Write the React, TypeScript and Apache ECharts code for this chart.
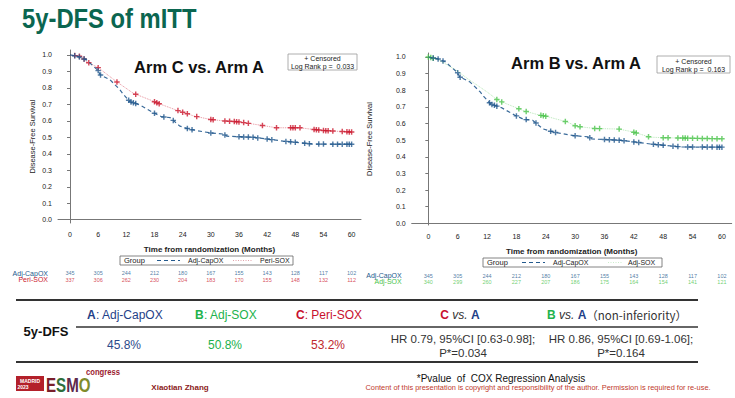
import React, { useEffect, useRef } from "react";
import * as echarts from "echarts";

// ---------- data ----------
const months = [0, 6, 12, 18, 24, 30, 36, 42, 48, 54, 60];
const yTicks = [0, 0.1, 0.2, 0.3, 0.4, 0.5, 0.6, 0.7, 0.8, 0.9, 1.0];

const riskCapOX = [345, 305, 244, 212, 180, 167, 155, 143, 128, 117, 102];
const riskPeriSOX = [337, 306, 262, 230, 204, 183, 170, 155, 148, 132, 112];
const riskAdjSOX = [340, 299, 260, 227, 207, 186, 175, 164, 154, 141, 121];

// Kaplan-Meier estimates (months, survival)
const capoxT = [0, 1.8, 3.5, 6, 6.4, 8.5, 10.6, 11.4, 12.8, 14.9, 17.7, 19.5, 21.3, 23.4, 25.6, 29.8, 32.7, 33.4, 39, 41.9, 45.4, 48.3, 51.8, 60];
const capoxS = [1, 0.99, 0.97, 0.905, 0.88, 0.85, 0.79, 0.76, 0.716, 0.696, 0.65, 0.625, 0.62, 0.568, 0.548, 0.527, 0.52, 0.507, 0.5, 0.49, 0.477, 0.469, 0.459, 0.458];

const periT = [0, 2.5, 3.5, 6, 9.9, 13.5, 17.7, 18.8, 22.7, 24.8, 26.3, 29.8, 32.7, 35.9, 40.5, 44, 49, 51.8, 54.7, 60];
const periS = [1, 0.99, 0.96, 0.923, 0.838, 0.767, 0.72, 0.706, 0.665, 0.645, 0.63, 0.609, 0.6, 0.594, 0.574, 0.558, 0.558, 0.548, 0.54, 0.532];

const soxT = [0, 2, 4, 6, 8, 10, 12, 14, 15, 18.4, 19.4, 22.8, 23.9, 28.3, 30.3, 34.1, 38.9, 41.9, 45.3, 48, 60];
const soxS = [1, 0.985, 0.95, 0.915, 0.87, 0.83, 0.79, 0.745, 0.73, 0.69, 0.677, 0.65, 0.645, 0.61, 0.583, 0.57, 0.567, 0.549, 0.518, 0.515, 0.508];

// censoring times (months)
const capoxCens = [1, 2, 3, 6, 6.5, 12.5, 13, 13.5, 14, 18, 20, 22, 25, 26, 30, 33, 36, 37, 38, 39, 40, 42, 43, 46, 47, 48, 50, 51, 53, 54, 56, 57, 58, 59, 59.5, 60];
const periCens = [1, 2, 3, 4, 6, 10, 14, 18, 18.5, 19, 23, 24, 25, 27, 30, 30.5, 33, 34, 35, 35.5, 36, 37, 38, 41, 44, 47, 47.5, 48, 49, 52, 52.5, 53, 54, 54.5, 55, 56, 58, 59, 59.5, 60];
const soxCens = [0, 0.5, 1, 14, 15, 18.5, 20, 23, 23.5, 24, 28, 30, 31, 34, 35, 39, 42, 42.5, 45, 48, 49, 51, 52, 52.5, 53, 54, 55, 56, 57, 58, 59, 60];

// ---------- styles ----------
const BLUE = "#245a8e";
const RED = "#cc1a30";
const GREEN = "#4cc44c";
const FONT = "'Liberation Sans', Arial, sans-serif";
const PLUS =
  "path://M-1,-0.26 L-0.26,-0.26 L-0.26,-1 L0.26,-1 L0.26,-0.26 L1,-0.26 L1,0.26 L0.26,0.26 L0.26,1 L-0.26,1 L-0.26,0.26 L-1,0.26 Z";

function interp(ts: number[], ss: number[], t: number) {
  for (let i = 1; i < ts.length; i++) {
    if (t <= ts[i]) {
      const f = (t - ts[i - 1]) / (ts[i] - ts[i - 1]);
      return ss[i - 1] + f * (ss[i] - ss[i - 1]);
    }
  }
  return ss[ss.length - 1];
}
const zip = (ts: number[], ss: number[]) => ts.map((t, i) => [t, ss[i]]);
const cens = (c: number[], ts: number[], ss: number[]) => c.map((t) => [t, interp(ts, ss, t)]);

function mainAxes(idx: number, left: number, top: number, width: number, height: number, xmin: number, xmax: number, ymin: number, ymax: number, nameGap: number) {
  return {
    grid: { left, top, width, height },
    xAxis: {
      type: "value",
      gridIndex: idx,
      min: xmin,
      max: xmax,
      name: "Time from randomization (Months)",
      nameLocation: "middle",
      nameGap: 22,
      nameTextStyle: { fontSize: 8, fontWeight: "bold", color: "#222", fontFamily: FONT },
      axisLine: { lineStyle: { color: "#777", width: 1 } },
      axisTick: { show: false },
      splitLine: { show: false },
      axisLabel: { customValues: months, fontSize: 7, color: "#222", margin: 8, fontFamily: FONT },
    },
    yAxis: {
      type: "value",
      gridIndex: idx,
      min: ymin,
      max: ymax,
      name: "Disease-Free Survival",
      nameLocation: "middle",
      nameGap,
      nameTextStyle: { fontSize: 7.5, color: "#222", fontFamily: FONT },
      axisLine: { show: true, lineStyle: { color: "#777", width: 1 } },
      axisTick: { show: true, customValues: yTicks, length: 3, lineStyle: { color: "#777" } },
      splitLine: { show: false },
      axisLabel: {
        customValues: yTicks,
        fontSize: 7,
        color: "#222",
        margin: 6,
        fontFamily: FONT,
        formatter: (v: number) => v.toFixed(1),
      },
    },
  };
}

function riskAxes(idx: number, left: number, top: number, width: number, height: number, xmin: number, xmax: number, names: string[], colors: string[]) {
  return {
    grid: { left, top, width, height },
    xAxis: { type: "value", gridIndex: idx, min: xmin, max: xmax, show: false },
    yAxis: {
      type: "category",
      gridIndex: idx,
      inverse: true,
      data: names,
      axisLine: { show: false },
      axisTick: { show: false },
      axisLabel: {
        interval: 0,
        hideOverlap: false,
        margin: 10,
        fontFamily: FONT,
        formatter: (v: string) => (v === names[0] ? `{a|${v}}` : `{b|${v}}`),
        rich: {
          a: { fontSize: 7, color: colors[0], fontFamily: FONT },
          b: { fontSize: 7, color: colors[1], fontFamily: FONT },
        },
      },
    },
  };
}

function riskSeries(idx: number, name: string, counts: number[], color: string) {
  return {
    type: "scatter",
    xAxisIndex: idx,
    yAxisIndex: idx,
    symbolSize: 0,
    silent: true,
    data: months.map((m, i) => [m, name, counts[i]]),
    label: {
      show: true,
      position: "inside",
      fontSize: 5.5,
      color,
      fontFamily: FONT,
      formatter: (p: any) => String(p.data[2]),
    },
  };
}

function kmLine(idx: number, ts: number[], ss: number[], color: string, type: any, width: number, opacity: number) {
  return {
    type: "line",
    xAxisIndex: idx,
    yAxisIndex: idx,
    data: zip(ts, ss),
    showSymbol: false,
    symbol: "none",
    lineStyle: { color, type, width, opacity },
    silent: true,
  };
}
function censSeries(idx: number, c: number[], ts: number[], ss: number[], color: string) {
  return {
    type: "scatter",
    xAxisIndex: idx,
    yAxisIndex: idx,
    data: cens(c, ts, ss),
    symbol: PLUS,
    symbolSize: 5.5,
    itemStyle: { color },
    silent: true,
  };
}

const T = (text: string, x: number, y: number, fontSize: number, fill: string, extra: any = {}, el: any = {}) => ({
  type: "text",
  x,
  y,
  silent: true,
  ...el,
  style: {
    text,
    fontSize,
    fill,
    fontFamily: FONT,
    textAlign: "center",
    textVerticalAlign: "middle",
    ...extra,
  },
});
const L = (x1: number, y1: number, x2: number, y2: number, stroke: string, lineWidth: number, lineDash?: number[]) => ({
  type: "line",
  silent: true,
  shape: { x1, y1, x2, y2 },
  style: { stroke, lineWidth, lineDash },
});
const R = (x: number, y: number, width: number, height: number, fill: string, stroke?: string, lineWidth = 1) => ({
  type: "rect",
  silent: true,
  shape: { x, y, width, height },
  style: { fill, stroke, lineWidth },
});

export default function App() {
  const ref = useRef<HTMLDivElement>(null);
  useEffect(() => {
    document.body.style.margin = "0";
    const chart = echarts.init(ref.current!, undefined, { renderer: "svg" });

    const a0 = mainAxes(0, 58, 50, 303, 173, -2.56, 62, -0.02, 1.03, 22);
    const a1 = mainAxes(1, 411.7, 53, 320, 172, -3.4, 62, -0.01, 1.024, 38);
    const r0 = riskAxes(2, 58, 270, 303, 13, -2.56, 62, ["Adj-CapOX", "Peri-SOX"], [BLUE, RED]);
    const r1 = riskAxes(3, 411.7, 272.5, 320, 12, -3.4, 62, ["Adj-CapOX", "Adj-SOX"], [BLUE, GREEN]);

    const hdr = (letter: string, rest: string, color: string) => ({
      text: `{l|${letter}}{r|${rest}}`,
      rich: {
        l: { fontSize: 12, fontWeight: "bold", fill: color, color, fontFamily: FONT },
        r: { fontSize: 12, fill: color, color, fontFamily: FONT },
      },
    });

    const graphic: any[] = [
      // main title
      T("5y-DFS of mITT", 22, 18, 28, "#0b6650", { fontWeight: "bold", textAlign: "left" }, { scaleX: 0.85 }),
      // arm titles
      T("Arm C vs. Arm A", 199, 67, 16.5, "#111", { fontWeight: "bold" }),
      T("Arm B vs. Arm A", 576, 63, 16.5, "#111", { fontWeight: "bold" }),
      // censored boxes
      R(288, 54, 69, 16, "#fff", "#999", 0.8),
      T("+ Censored", 322.5, 58.5, 7, "#222"),
      T("Log Rank p =  0.033", 322.5, 66, 7, "#222"),
      R(657, 56, 73, 17, "#fff", "#999", 0.8),
      T("+ Censored", 693.5, 61, 7, "#222"),
      T("Log Rank p =  0.163", 693.5, 69, 7, "#222"),
      // legend boxes
      R(120, 256, 173, 9, "#fff", "#666", 0.8),
      T("Group", 124, 260.5, 7.5, "#222", { textAlign: "left" }),
      L(157, 260.5, 180, 260.5, BLUE, 1, [4, 3]),
      T("Adj-CapOX", 188, 260.5, 7, "#222", { textAlign: "left" }),
      L(233, 260.5, 253, 260.5, "#d98a96", 0.8, [1, 1.5]),
      T("Peri-SOX", 260, 260.5, 7, "#222", { textAlign: "left" }),
      R(483, 258, 179, 9, "#fff", "#666", 0.8),
      T("Group", 487, 262.5, 7.5, "#222", { textAlign: "left" }),
      L(522, 262.5, 545, 262.5, BLUE, 1, [4, 3]),
      T("Adj-CapOX", 553, 262.5, 7, "#222", { textAlign: "left" }),
      L(608, 262.5, 623, 262.5, "#bfe8bf", 0.8, [1, 1.5]),
      T("Adj-SOX", 628, 262.5, 7, "#222", { textAlign: "left" }),
      // table lines
      L(16, 300, 698, 300, "#333", 2),
      L(76, 327, 698, 327, "#333", 1.5),
      L(16, 362, 698, 362, "#333", 2),
      // table header
      { type: "text", x: 125, y: 315, silent: true, style: { ...hdr("A", ": Adj-CapOX", "#1f3f88"), textAlign: "center", textVerticalAlign: "middle" } },
      { type: "text", x: 226, y: 315, silent: true, style: { ...hdr("B", ": Adj-SOX", "#22b24c"), textAlign: "center", textVerticalAlign: "middle" } },
      { type: "text", x: 329, y: 315, silent: true, style: { ...hdr("C", ": Peri-SOX", "#c8102e"), textAlign: "center", textVerticalAlign: "middle" } },
      {
        type: "text",
        x: 460,
        y: 315,
        silent: true,
        style: {
          text: "{c|C}{v| vs. }{a|A}",
          textAlign: "center",
          textVerticalAlign: "middle",
          rich: {
            c: { fontSize: 12, fontWeight: "bold", fill: "#c8102e", color: "#c8102e", fontFamily: FONT },
            v: { fontSize: 12, fontStyle: "italic", fill: "#333", color: "#333", fontFamily: FONT },
            a: { fontSize: 12, fontWeight: "bold", fill: "#1f3f88", color: "#1f3f88", fontFamily: FONT },
          },
        },
      },
      {
        type: "text",
        x: 617,
        y: 315,
        silent: true,
        style: {
          text: "{b|B}{v| vs. }{a|A}{n|（non-inferiority）}",
          textAlign: "center",
          textVerticalAlign: "middle",
          rich: {
            b: { fontSize: 12, fontWeight: "bold", fill: "#22b24c", color: "#22b24c", fontFamily: FONT },
            v: { fontSize: 12, fontStyle: "italic", fill: "#333", color: "#333", fontFamily: FONT },
            a: { fontSize: 12, fontWeight: "bold", fill: "#1f3f88", color: "#1f3f88", fontFamily: FONT },
            n: { fontSize: 11.5, fill: "#333", color: "#333", fontFamily: "'Noto Sans CJK SC', " + FONT },
          },
        },
      },
      T("5y-DFS", 46, 331, 13, "#111", { fontWeight: "bold" }),
      T("45.8%", 124, 345, 12, "#2c4a8a"),
      T("50.8%", 225, 345, 12, "#22b24c"),
      T("53.2%", 328, 345, 12, "#c0282d"),
      T("HR 0.79, 95%CI [0.63-0.98];", 463, 339, 11.5, "#333"),
      T("P*=0.034", 463, 352.5, 11.5, "#333"),
      T("HR 0.86, 95%CI [0.69-1.06];", 621, 339, 11.5, "#333"),
      T("P*=0.164", 621, 352.5, 11.5, "#333"),
      // footer: ESMO logo
      R(16, 376, 28, 15, "#b3202a"),
      T("MADRID", 30, 380.5, 5, "#fff", { fontWeight: "bold" }),
      T("2023", 23, 387, 5, "#fff", { fontWeight: "bold" }),
      {
        type: "text",
        x: 46,
        y: 384.5,
        scaleX: 0.72,
        silent: true,
        style: {
          text: "{e|E}{s|S}{m|M}{o|O}",
          textAlign: "left",
          textVerticalAlign: "middle",
          rich: {
            e: { fontSize: 21, fontWeight: "bold", fill: "#7a1f2b", color: "#7a1f2b", fontFamily: FONT },
            s: { fontSize: 21, fontWeight: "bold", fill: "#2f6e3a", color: "#2f6e3a", fontFamily: FONT },
            m: { fontSize: 21, fontWeight: "bold", fill: "#5e2a4c", color: "#5e2a4c", fontFamily: FONT },
            o: { fontSize: 21, fontWeight: "bold", fill: "#7f8c2a", color: "#7f8c2a", fontFamily: FONT },
          },
        },
      },
      T("congress", 86, 372.5, 8.5, "#9b1b30", { textAlign: "left", fontWeight: "bold" }, { scaleX: 0.9 }),
      T("Xiaotian Zhang", 180, 387, 8, "#8b1a1a", { fontWeight: "bold" }),
      T("*Pvalue  of  COX Regression Analysis", 501, 378, 10, "#111"),
      T("Content of this presentation is copyright and responsibility of the author. Permission is required for re-use.", 538, 387.5, 7.4, "#c0392b"),
    ];

    chart.setOption({
      animation: false,
      backgroundColor: "#fff",
      textStyle: { fontFamily: FONT },
      grid: [a0.grid, a1.grid, r0.grid, r1.grid],
      xAxis: [a0.xAxis, a1.xAxis, r0.xAxis, r1.xAxis],
      yAxis: [a0.yAxis, a1.yAxis, r0.yAxis, r1.yAxis],
      series: [
        kmLine(0, periT, periS, RED, "dotted", 0.9, 0.55),
        kmLine(0, capoxT, capoxS, BLUE, [4, 3], 1.2, 0.9),
        censSeries(0, periCens, periT, periS, RED),
        censSeries(0, capoxCens, capoxT, capoxS, BLUE),
        kmLine(1, soxT, soxS, GREEN, "dotted", 0.9, 0.45),
        kmLine(1, capoxT, capoxS, BLUE, [4, 3], 1.2, 0.9),
        censSeries(1, soxCens, soxT, soxS, GREEN),
        censSeries(1, capoxCens, capoxT, capoxS, BLUE),
        riskSeries(2, "Adj-CapOX", riskCapOX, BLUE),
        riskSeries(2, "Peri-SOX", riskPeriSOX, RED),
        riskSeries(3, "Adj-CapOX", riskCapOX, BLUE),
        riskSeries(3, "Adj-SOX", riskAdjSOX, GREEN),
      ],
      graphic,
    });
    return () => chart.dispose();
  }, []);
  return <div ref={ref} style={{ position: "fixed", left: 0, top: 0, width: 735, height: 398 }} />;
}
